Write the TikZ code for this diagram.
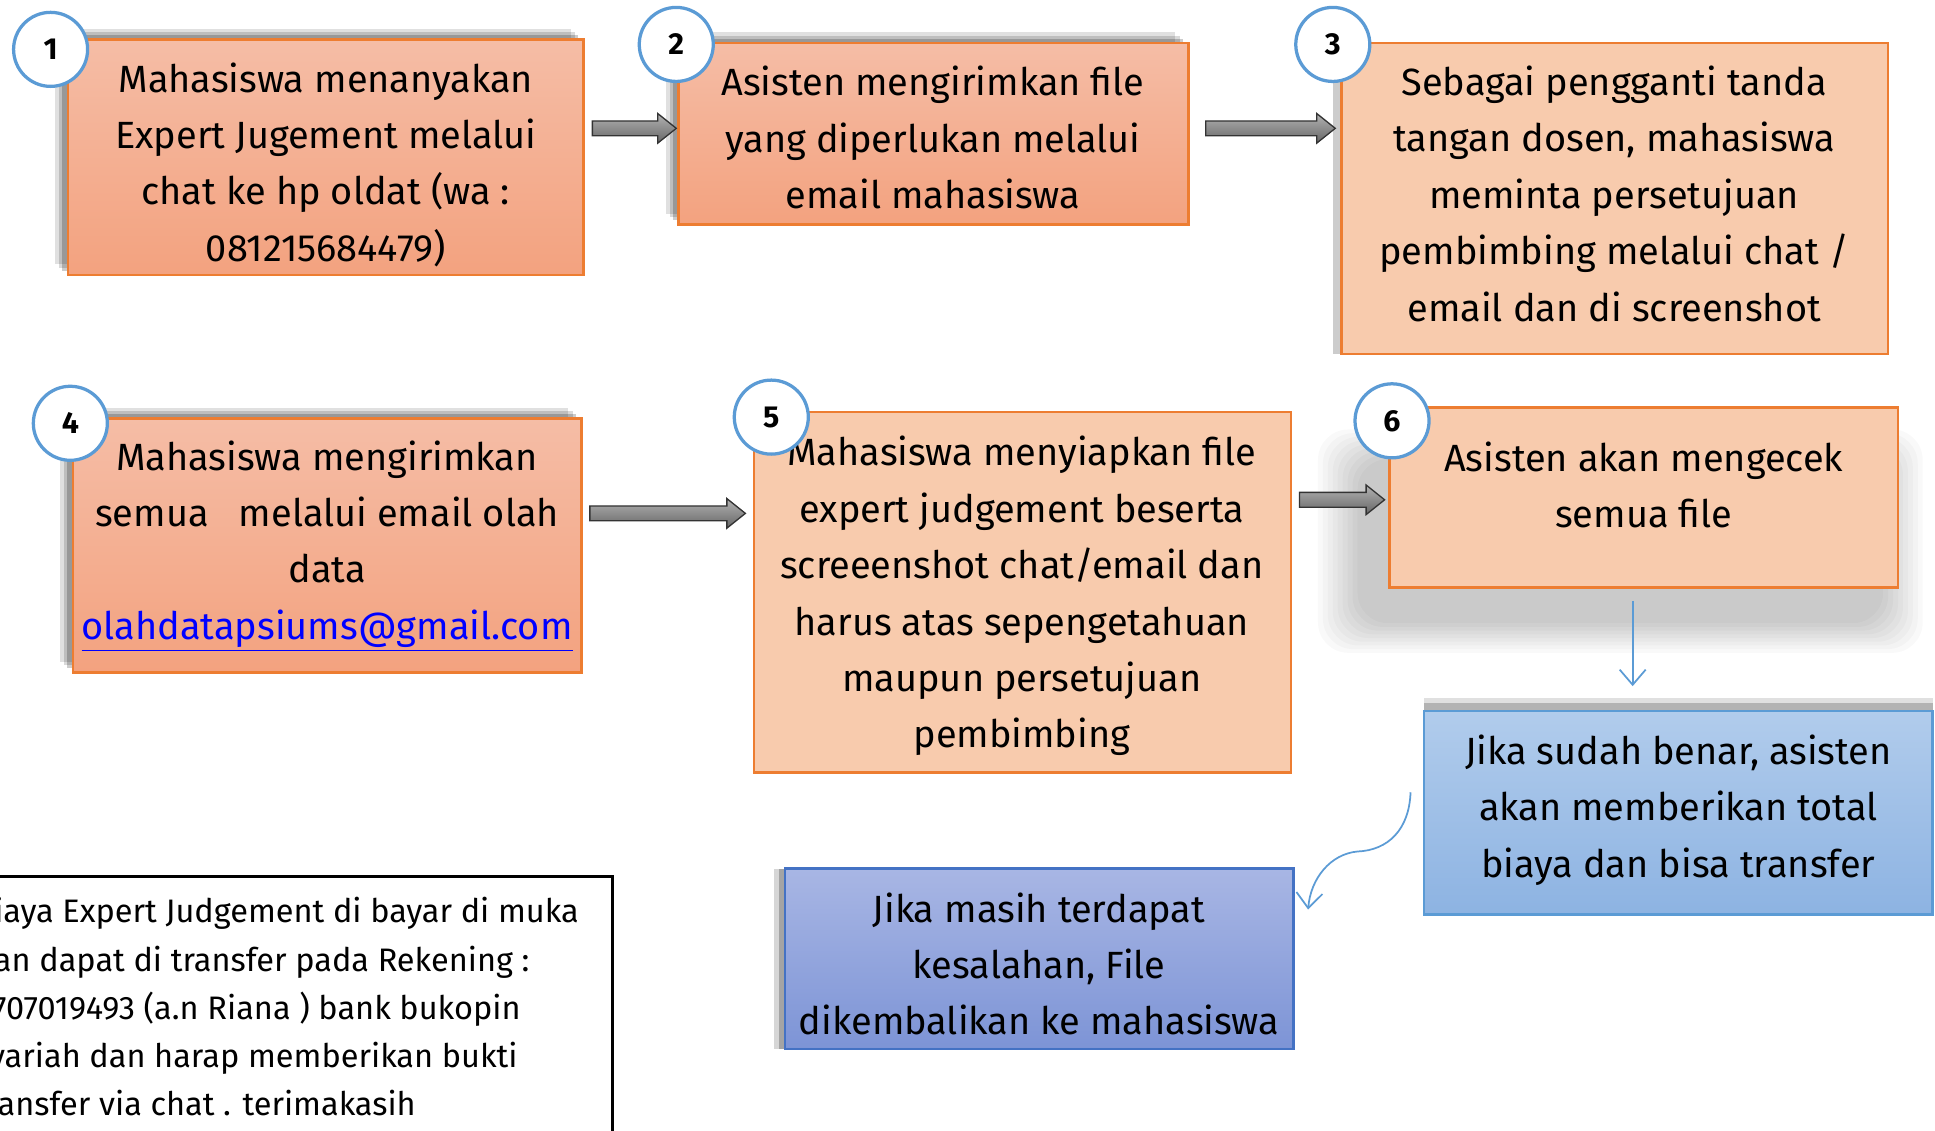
\documentclass[tikz,border=0pt]{standalone}
\usepackage{fontspec}
\setmainfont{Fira Sans}
\usetikzlibrary{shadows,fit,calc,arrows.meta}
\definecolor{orB}{HTML}{ED7D31}
\definecolor{salT}{HTML}{F5BDA6}
\definecolor{salB}{HTML}{F3A27F}
\definecolor{peach}{HTML}{F8CBAD}
\definecolor{blueL}{HTML}{5B9BD5}
\definecolor{bluT}{HTML}{B1CCEC}
\definecolor{bluB}{HTML}{8DB3E2}
\definecolor{purT}{HTML}{A8B6E4}
\definecolor{purB}{HTML}{7D94D6}
\definecolor{purD}{HTML}{4472C4}
\definecolor{linkB}{HTML}{0000FF}
\newcommand\blockarr[2]{%
  \draw[blockstyle] let \p1=(#1), \p2=(#2) in
   (\x1,\y1+0.12cm) -- (\x2-0.30cm,\y1+0.12cm) -- (\x2-0.30cm,\y1+0.24cm) --
   (\x2,\y1) -- (\x2-0.30cm,\y1-0.24cm) -- (\x2-0.30cm,\y1-0.12cm) --
   (\x1,\y1-0.12cm) -- cycle;}
\begin{document}
\begin{tikzpicture}[x=0.02cm,y=-0.02cm,
  boxbase/.style={draw=orB, line width=1.2pt, inner sep=0pt},
  boxtext/.style={align=center, inner sep=0pt, font=\fontsize{17.5}{26}\selectfont},
  softshadow/.style={
     general shadow={shadow xshift=-6pt, shadow yshift=5pt, opacity=.12, fill=black},
     general shadow={shadow xshift=-4pt, shadow yshift=3.5pt, opacity=.15, fill=black},
     general shadow={shadow xshift=-2.5pt, shadow yshift=2pt, opacity=.2, fill=black}},
  salbox/.style={boxbase, top color=salT, bottom color=salB, softshadow},
  peachbox/.style={boxbase, fill=peach},
  bluebox/.style={boxbase, draw=blueL, top color=bluT, bottom color=bluB,
     general shadow={shadow xshift=0pt, shadow yshift=6pt, opacity=.12, fill=black},
     general shadow={shadow xshift=0pt, shadow yshift=3.5pt, opacity=.2, fill=black}},
  purbox/.style={boxbase, draw=purD, top color=purT, bottom color=purB,
     general shadow={shadow xshift=-5pt, shadow yshift=0pt, opacity=.2, fill=black!80},
     general shadow={shadow xshift=-2.5pt, shadow yshift=0pt, opacity=.3, fill=black!80}},
  numcirc/.style={circle, draw=blueL, line width=1.5pt, fill=white,
     minimum size=1.2cm, inner sep=0pt, font=\fontsize{14}{16}\selectfont\bfseries},
  blockstyle/.style={draw=black!80, line width=0.6pt, top color=black!30, bottom color=black!60},
  thinarr/.style={draw=blueL, line width=0.8pt, -{Straight Barb[length=7pt,width=12pt]}},
  notebox/.style={draw=black, line width=1.3pt, inner sep=0pt},
  notetext/.style={align=left, inner sep=0pt, font=\fontsize{15}{22.2}\selectfont}
]
\useasboundingbox (0,0) rectangle (1568,916);
\fill[white] (0,0) rectangle (1568,916);

% soft shadow under box 6
\foreach \i in {0,...,8}
  \fill[black, opacity=0.022, rounded corners=14pt]
    ({1100-\i*4},{372-\i*3}) rectangle ({1526+\i*4},{505+\i*3});

% boxes
\node[salbox, fit={(55,32) (473,223)}] (b1) {};
\node[salbox, fit={(550,35) (963,182)}] (b2) {};
\node[peachbox, general shadow={shadow xshift=-4pt, shadow yshift=0pt, opacity=.2, fill=black}, fit={(1087,35) (1530,287)}] (b3) {};
\node[salbox, fit={(59,339) (471,545)}] (b4) {};
\node[peachbox, fit={(611,334) (1046,626)}] (b5) {};
\node[peachbox, fit={(1126,330) (1538,476)}] (b6) {};
\node[bluebox, fit={(1154,576) (1566,741)}] (b7) {};
\node[purbox, fit={(636,704) (1048,850)}] (b8) {};

% box texts
\node[boxtext] (t1) at (264,133.5) {Mahasiswa menanyakan\\Expert Jugement melalui\\chat ke hp oldat (wa :\\081215684479)};
\node[boxtext] (t2) at (756,111.5) {Asisten mengirimkan file\\yang diperlukan melalui\\email mahasiswa};
\node[boxtext] (t3) at (1308,157) {Sebagai pengganti tanda\\tangan dosen, mahasiswa\\meminta persetujuan\\pembimbing melalui chat /\\email dan di screenshot};
\node[boxtext] (t4) at (265,442.5) {Mahasiswa mengirimkan\\semua\ \ \ melalui email olah\\data\\{\color{linkB}\underline{olahdatapsiums@gmail.com}}};
\node[boxtext] (t5) at (828,483) {Mahasiswa menyiapkan file\\expert judgement beserta\\screeenshot chat/email dan\\harus atas sepengetahuan\\maupun persetujuan\\pembimbing};
\node[boxtext] (t6) at (1332,393) {Asisten akan mengecek\\semua file};
\node[boxtext] (t7) at (1360,656.5) {Jika sudah benar, asisten\\akan memberikan total\\biaya dan bisa transfer};
\node[boxtext] (t8) at (842,781) {Jika masih terdapat\\kesalahan, File\\dikembalikan ke mahasiswa};

% note box
\node[notebox, fit={(-30,710) (496,960)}] (note) {};
\node[notetext, anchor=north west] (notetxt) at (-21,727) {Biaya Expert Judgement di bayar di muka\\dan dapat di transfer pada Rekening :\\0707019493 (a.n Riana ) bank bukopin\\syariah dan harap memberikan bukti\\transfer via chat . terimakasih};

% numbers
\node[numcirc] (n1) at (41,40) {1};
\node[numcirc] (n2) at (548,36) {2};
\node[numcirc] (n3) at (1080,36) {3};
\node[numcirc] (n4) at (57,343) {4};
\node[numcirc] (n5) at (625,338) {5};
\node[numcirc] (n6) at (1128,341) {6};

% block arrows
\coordinate (a1s) at (480,104); \coordinate (a1e) at (548,104);
\coordinate (a2s) at (977,104); \coordinate (a2e) at (1082,104);
\coordinate (a3s) at (478,416); \coordinate (a3e) at (604,416);
\coordinate (a4s) at (1053,405); \coordinate (a4e) at (1122,405);
\blockarr{a1s}{a1e}
\blockarr{a2s}{a2e}
\blockarr{a3s}{a3e}
\blockarr{a4s}{a4e}

% thin arrows
\coordinate (t1s) at (1323,487); \coordinate (t1e) at (1323,556);
\draw[thinarr] (t1s) -- (t1e);
\coordinate (t2s) at (1143,642); \coordinate (t2e) at (1060,737);
\draw[thinarr] (t2s) .. controls (1142,672) and (1125,689) .. (1100,690)
   .. controls (1078,692) and (1062,712) .. (t2e);
\end{tikzpicture}
\end{document}
